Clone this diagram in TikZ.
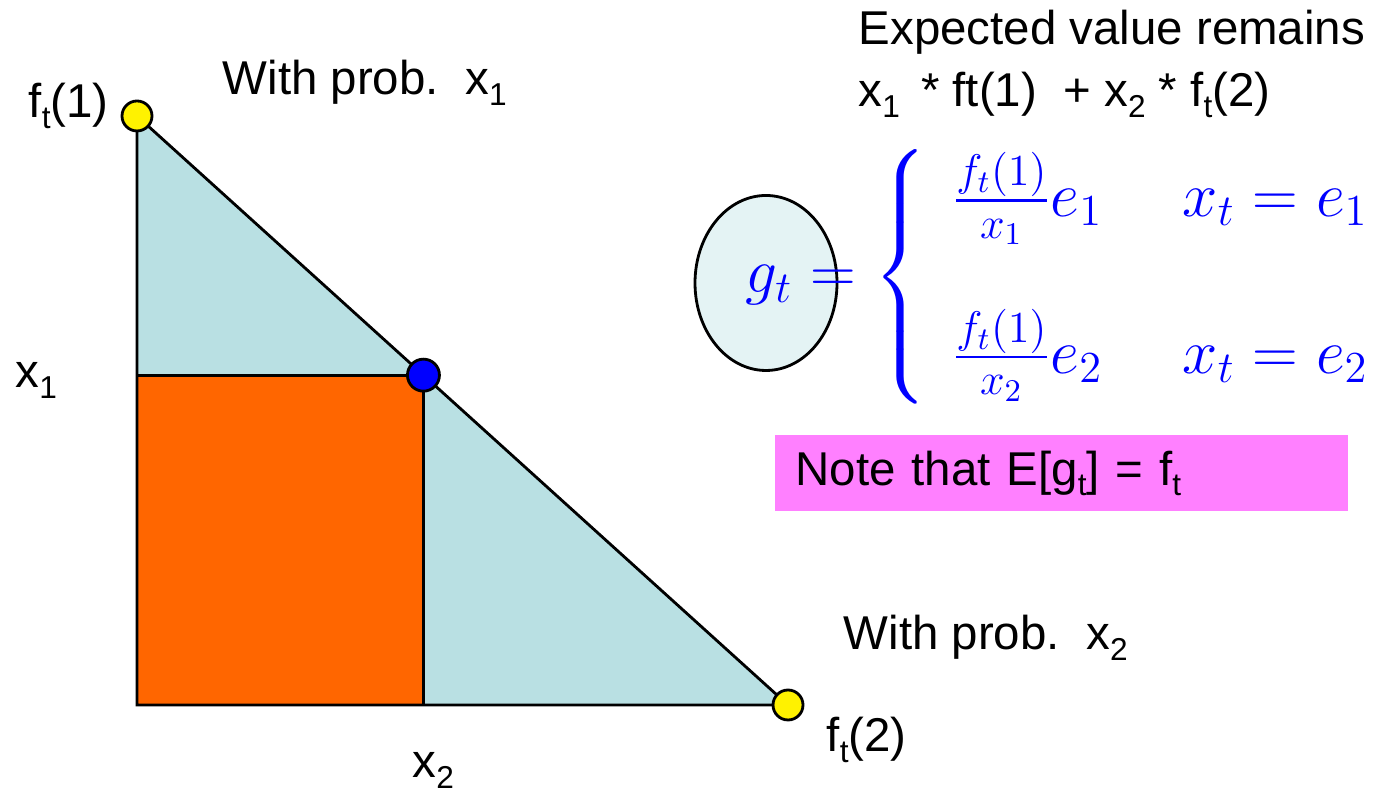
\RequirePackage{fix-cm}
\documentclass[tikz,border=0pt]{standalone}
\usepackage{fontspec}
\setmainfont{Liberation Sans}
\usepackage{amsmath}
\usetikzlibrary{positioning,calc,shapes.geometric}
\definecolor{triblue}{HTML}{B9E0E3}
\definecolor{sqorange}{HTML}{FF6600}
\definecolor{ovalblue}{HTML}{E4F3F4}
\definecolor{notepink}{HTML}{FF80FF}
\newcommand{\lsub}[1]{\raisebox{-0.4ex}{\fontsize{9pt}{9pt}\selectfont #1}}

\begin{document}
\begin{tikzpicture}[
    lbl/.style={font=\fontsize{13.5}{16}\selectfont, inner sep=0pt, anchor=base west},
    dot/.style={draw, circle, line width=0.8pt, inner sep=0pt, minimum size=0.3cm, fill=yellow},
    edge/.style={draw, line width=0.8pt}]
  \useasboundingbox (0,0) rectangle (13.83,7.92);
  % simplex
  \coordinate (top) at (1.37,6.76);
  \coordinate (corner) at (1.37,0.87);
  \coordinate (right) at (7.88,0.87);
  \coordinate (mid) at ($(top)!0.44!(right)$);
  \fill[triblue] (top) -- (corner) -- (right) -- cycle;
  \draw[edge, fill=sqorange] (corner) rectangle (mid);
  \draw[edge] (top) -- (corner) -- (right) -- cycle;
  \node[dot] (f1) at (top) {};
  \node[dot] (f2) at (right) {};
  \node[dot, fill=blue, minimum size=0.32cm] (xdot) at (mid) {};
  % labels
  \node[lbl] (f1lbl) at (0.28,6.74) {f\lsub{t}(1)};
  \node[lbl] (prob1) at (2.22,6.97) {With prob.\ \ x\lsub{1}};
  \node[lbl] (xone) at (0.15,4.04) {x\lsub{1}};
  \node[lbl] (xtwo) at (4.12,0.14) {x\lsub{2}};
  \node[lbl] (prob2) at (8.43,1.42) {With prob.\ \ x\lsub{2}};
  \node[lbl] (f2lbl) at (8.26,0.40) {f\lsub{t}(2)};
  \node[lbl] (expect) at (8.58,7.47) {Expected value remains};
  \node[lbl] (expsum) at (8.58,6.85) {x\lsub{1} \,* ft(1) \ + x\lsub{2} * f\lsub{t}(2)};
  % g_t
  \node[draw, ellipse, line width=0.8pt, fill=ovalblue, minimum width=1.42cm, minimum height=1.75cm] (oval) at (7.66,5.09) {};
  \node[text=blue, font=\fontsize{18}{21.6}\selectfont, anchor=west, inner sep=0pt] (gdef) at (7.45,5.15)
    {$g_t = \left\{\hspace{7pt}\begin{array}{@{}l@{\hspace{22.7pt}}l@{}}
       \frac{f_t(1)}{x_1}e_1 & x_t = e_1\\[20pt]
       \frac{f_t(1)}{x_2}e_2 & x_t = e_2
     \end{array}\right.$};
  % note
  \node[fill=notepink, anchor=west, inner xsep=0.21cm, text width=5.31cm, minimum height=0.76cm,
    font=\fontsize{13.5}{16}\selectfont] (note) at (7.74,3.19) {Note that E[g\lsub{t}] = f\lsub{t}};
\end{tikzpicture}
\end{document}
